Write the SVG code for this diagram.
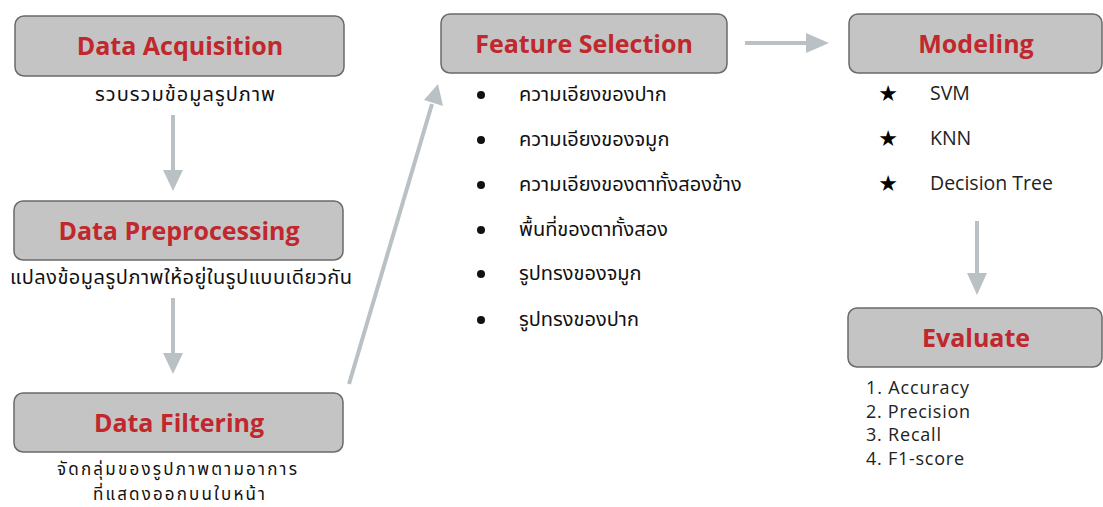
<svg xmlns="http://www.w3.org/2000/svg" width="1103" height="507" viewBox="0 0 1103 507">
  <defs>
    <style>
      .box { fill: #c4c4c4; stroke: #6a6a6a; stroke-width: 1.5; }
      .title { font-family: "Open Sans", "Liberation Sans", sans-serif; font-weight: 700; font-size: 25px; fill: #c0282d; text-anchor: middle; }
      .th { font-family: "Noto Sans Thai", "Loma", "Tahoma", "Noto Sans", "DejaVu Sans", sans-serif; font-size: 20px; fill: #111; }
      .th2 { font-family: "Noto Sans Thai", "Loma", "Tahoma", "Noto Sans", "DejaVu Sans", sans-serif; font-size: 17px; fill: #111; text-anchor: middle; }
      .en { font-family: "Open Sans", "Liberation Sans", sans-serif; font-size: 19.5px; fill: #222; }
      .list { font-family: "Open Sans", "Liberation Sans", sans-serif; font-size: 18px; fill: #222; }
      .star { font-family: "DejaVu Sans", sans-serif; font-size: 22px; fill: #000; text-anchor: middle; }
      .conn { stroke: #b9c1c5; stroke-width: 4; fill: none; }
      .head { fill: #b9c1c5; }
    </style>
  </defs>

  <rect width="1103" height="507" fill="#ffffff"/>

  <!-- connectors -->
  <g id="connectors">
    <line class="conn" x1="173" y1="115" x2="173" y2="172"/>
    <polygon class="head" points="163,170 183,170 173,191"/>
    <line class="conn" x1="173" y1="298" x2="173" y2="355"/>
    <polygon class="head" points="163,353 183,353 173,374"/>
    <line class="conn" x1="349" y1="384" x2="432" y2="104"/>
    <polygon class="head" points="424,100 443,106 438,84"/>
    <line class="conn" x1="745" y1="43" x2="808" y2="43"/>
    <polygon class="head" points="806,33 806,53 829,43"/>
    <line class="conn" x1="977" y1="221" x2="977" y2="275"/>
    <polygon class="head" points="967,273 987,273 977,295"/>
  </g>

  <!-- Data Acquisition -->
  <g id="data-acquisition">
    <rect class="box" x="15" y="16" width="329" height="60" rx="9"/>
    <text class="title" x="180" y="55">Data Acquisition</text>
    <text class="th" x="185" y="101" text-anchor="middle" textLength="180">รวบรวมข้อมูลรูปภาพ</text>
  </g>

  <!-- Data Preprocessing -->
  <g id="data-preprocessing">
    <rect class="box" x="14" y="201" width="329" height="59" rx="9"/>
    <text class="title" x="179" y="240">Data Preprocessing</text>
    <text class="th" x="181" y="284" text-anchor="middle" textLength="342">แปลงข้อมูลรูปภาพให้อยู่ในรูปแบบเดียวกัน</text>
  </g>

  <!-- Data Filtering -->
  <g id="data-filtering">
    <rect class="box" x="14" y="393" width="329" height="59" rx="9"/>
    <text class="title" x="179" y="432">Data Filtering</text>
    <text class="th2" x="177" y="475" textLength="240">จัดกลุ่มของรูปภาพตามอาการ</text>
    <text class="th2" x="179" y="500" textLength="172">ที่แสดงออกบนใบหน้า</text>
  </g>

  <!-- Feature Selection -->
  <g id="feature-selection">
    <rect class="box" x="441" y="14" width="286" height="59" rx="9"/>
    <text class="title" x="584" y="53">Feature Selection</text>
    <g class="th">
      <circle cx="481" cy="95" r="4" fill="#111"/>
      <text x="519" y="101">ความเอียงของปาก</text>
      <circle cx="481" cy="140" r="4" fill="#111"/>
      <text x="519" y="146">ความเอียงของจมูก</text>
      <circle cx="481" cy="185" r="4" fill="#111"/>
      <text x="519" y="191">ความเอียงของตาทั้งสองข้าง</text>
      <circle cx="481" cy="230" r="4" fill="#111"/>
      <text x="519" y="236">พื้นที่ของตาทั้งสอง</text>
      <circle cx="481" cy="274" r="4" fill="#111"/>
      <text x="519" y="280">รูปทรงของจมูก</text>
      <circle cx="481" cy="320" r="4" fill="#111"/>
      <text x="519" y="326">รูปทรงของปาก</text>
    </g>
  </g>

  <!-- Modeling -->
  <g id="modeling">
    <rect class="box" x="849" y="14" width="253" height="59" rx="9"/>
    <text class="title" x="976" y="53">Modeling</text>
    <text class="star" x="888" y="101">★</text>
    <text class="en" x="930" y="100">SVM</text>
    <text class="star" x="888" y="146">★</text>
    <text class="en" x="930" y="145">KNN</text>
    <text class="star" x="888" y="191">★</text>
    <text class="en" x="930" y="190">Decision Tree</text>
  </g>

  <!-- Evaluate -->
  <g id="evaluate">
    <rect class="box" x="848" y="308" width="254" height="59" rx="9"/>
    <text class="title" x="976" y="347">Evaluate</text>
    <text class="list" x="866" y="394" textLength="103">1. Accuracy</text>
    <text class="list" x="866" y="418" textLength="104">2. Precision</text>
    <text class="list" x="866" y="441" textLength="75">3. Recall</text>
    <text class="list" x="866" y="465" textLength="98">4. F1-score</text>
  </g>
</svg>
